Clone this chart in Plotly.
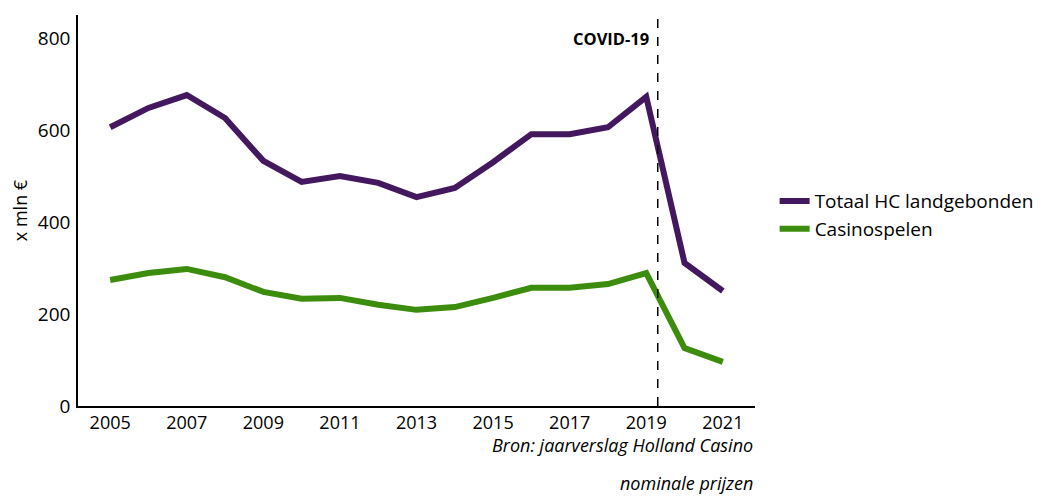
import plotly.graph_objects as go

years = list(range(2005, 2022))
totaal = [606, 648, 676, 626, 533, 487, 500, 485, 454, 474, 530, 591, 591, 606, 672, 311, 250]
casino = [274, 289, 298, 280, 248, 233, 235, 220, 209, 215, 235, 257, 257, 265, 289, 126, 96]
covid_x = 2019.3

font = "Open Sans"

fig = go.Figure()

fig.add_trace(go.Scatter(
    x=years, y=totaal, mode='lines', name='Totaal HC landgebonden',
    line=dict(color='#44185f', width=6)
))
fig.add_trace(go.Scatter(
    x=years, y=casino, mode='lines', name='Casinospelen',
    line=dict(color='#3c8d0d', width=6)
))

fig.add_shape(type='line', xref='x', yref='paper', x0=covid_x, x1=covid_x, y0=0, y1=1,
              line=dict(color='black', width=1.5, dash='dash'))

fig.add_annotation(x=covid_x, y=800, xref='x', yref='y', text='<b>COVID-19</b>',
                   showarrow=False, xanchor='right', xshift=-7,
                   font=dict(family=font, size=16.5, color='black'))

fig.add_annotation(x=1, y=-0.1, xref='paper', yref='paper',
                   text='<i>Bron: jaarverslag Holland Casino</i>', showarrow=False,
                   xanchor='right', yanchor='middle', font=dict(family=font, size=18, color='black'))
fig.add_annotation(x=1, y=-0.196, xref='paper', yref='paper',
                   text='<i>nominale prijzen</i>', showarrow=False,
                   xanchor='right', yanchor='middle', font=dict(family=font, size=18, color='black'))

# page body adds 8px margin, so the figure is sized to fit the window
fig.update_layout(
    width=1036, height=489,
    margin=dict(l=70, r=289, t=7, b=91, autoexpand=False),
    plot_bgcolor='white', paper_bgcolor='white',
    font=dict(family=font, size=19, color='black'),
    legend=dict(x=1.029, y=0.488, xanchor='left', yanchor='middle',
                font=dict(size=19), tracegroupgap=0),
    xaxis=dict(range=[2004.16, 2021.84], tickvals=list(range(2005, 2022, 2)),
               tickfont=dict(size=18),
               showgrid=False, zeroline=False, showline=True, linecolor='black',
               linewidth=1.5, ticks='', ticklabelstandoff=0),
    yaxis=dict(range=[0, 850], tickvals=[0, 200, 400, 600, 800],
               title=dict(text='x mln €', font=dict(size=18), standoff=10),
               showgrid=False, zeroline=False, showline=True, linecolor='black',
               linewidth=1.5, ticks='', ticklabelstandoff=2),
)

fig.write_html("out.html")
